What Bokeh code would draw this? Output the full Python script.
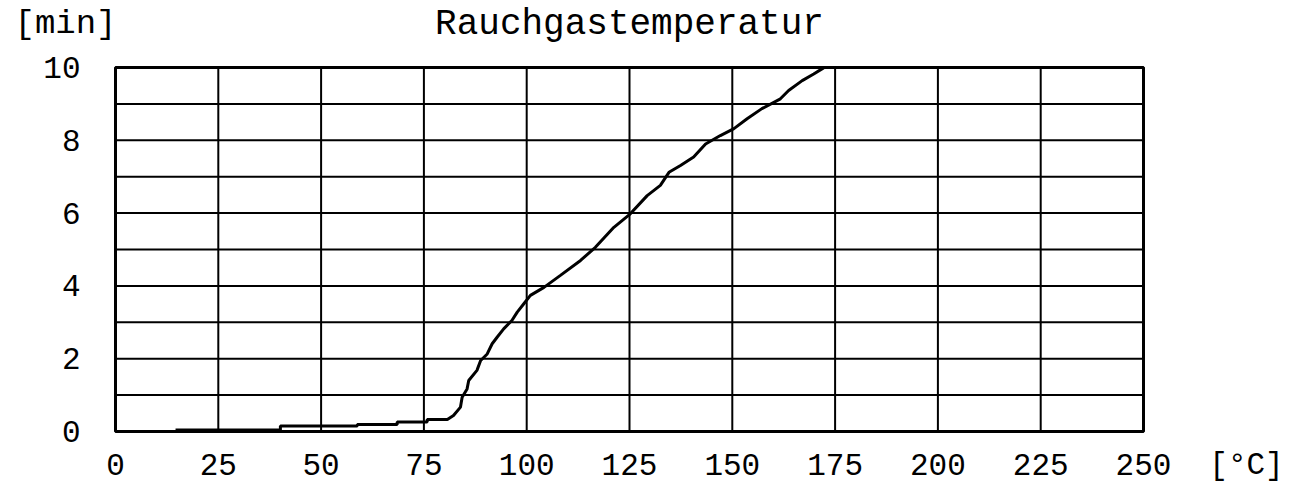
from bokeh.plotting import figure
from bokeh.models import Range1d, FixedTicker
from bokeh.core.properties import value
from bokeh.embed import file_html
from bokeh.resources import INLINE

# ---- data ----
temperature = [14.6, 40.1, 40.1, 58.8, 58.8, 68.5, 68.5, 75.8, 75.8, 80.7,
               82.2, 83.9, 84.3, 85.5, 85.9, 87.9, 88.8, 90.4, 91.6, 92.8,
               94.4, 96.4, 97.7, 99.3, 100.9, 104.2, 108.2, 113.1, 116.7, 121.2,
               125.2, 129.3, 132.5, 134.6, 137.4, 140.6, 143.5, 147.1, 150.4, 153.6,
               157.2, 161.7, 163.7, 167.0, 169.8, 172.2]
minutes = [0.04, 0.04, 0.15, 0.15, 0.19, 0.19, 0.26, 0.26, 0.33, 0.33,
           0.44, 0.67, 0.94, 1.17, 1.40, 1.68, 1.95, 2.13, 2.41, 2.59,
           2.82, 3.05, 3.28, 3.51, 3.74, 3.96, 4.29, 4.70, 5.06, 5.61,
           5.98, 6.48, 6.76, 7.12, 7.31, 7.54, 7.90, 8.13, 8.32, 8.59,
           8.87, 9.14, 9.37, 9.64, 9.82, 9.99]

x_ticks = [0, 25, 50, 75, 100, 125, 150, 175, 200, 225, 250]
x_tick_labels = ["0", "25", "50", "75", "100", "125", "150", "175", "200", "225", "250"]
y_grid = [0, 1, 2, 3, 4, 5, 6, 7, 8, 9, 10]
y_ticks = [0, 2, 4, 6, 8, 10]
y_tick_labels = ["0", "2", "4", "6", "8", "10"]

title_text = "Rauchgastemperatur"
y_unit = "[min]"
x_unit = "[°C]"

FONT = "Liberation Mono"

# ---- layout: the plot frame fills the canvas; grid box occupies px 115..1143 x 67..431 ----
W, H = 1301, 486
GL, GR, GT, GB = 115, 1143, 67, 431
x0, x1 = x_ticks[0], x_ticks[-1]
y0, y1 = y_grid[0], y_grid[-1]
sx = (GR - GL) / (x1 - x0)
sy = (GB - GT) / (y1 - y0)
xr = Range1d(x0 - GL / sx, x1 + (W - GR) / sx)
yr = Range1d(y0 - (H - GB) / sy, y1 + GT / sy)

p = figure(width=W, height=H, output_backend="svg", toolbar_location=None,
           x_range=xr, y_range=yr)
p.min_border = 0
p.min_border_left = 0
p.min_border_right = 0
p.min_border_top = 0
p.min_border_bottom = 0
p.outline_line_color = None
p.background_fill_color = "white"
p.border_fill_color = "white"
p.grid.visible = False

# axes fixed at the data origin, drawn inside the frame
p.xaxis.fixed_location = y0
p.yaxis.fixed_location = x0
p.xaxis.ticker = FixedTicker(ticks=x_ticks)
p.yaxis.ticker = FixedTicker(ticks=y_ticks)
p.xaxis.major_label_overrides = dict(zip(x_ticks, x_tick_labels))
p.yaxis.major_label_overrides = dict(zip(y_ticks, y_tick_labels))
for ax in (p.xaxis, p.yaxis):
    ax.axis_line_color = None
    ax.major_tick_line_color = None
    ax.minor_tick_line_color = None
    ax.major_tick_out = 0
    ax.major_tick_in = 0
    ax.major_label_text_font = FONT
    ax.major_label_text_font_size = "31px"
    ax.major_label_text_color = "black"
p.xaxis.major_label_standoff = 22
p.yaxis.major_label_standoff = 35

# grid lines (from the tick arrays)
p.segment(x0=x_ticks, y0=[y0] * len(x_ticks), x1=x_ticks, y1=[y1] * len(x_ticks),
          line_color="black", line_width=2)
p.segment(x0=[x0] * len(y_grid), y0=y_grid, x1=[x1] * len(y_grid), y1=y_grid,
          line_color="black", line_width=2)
# outer frame
p.rect(x=[(x0 + x1) / 2], y=[(y0 + y1) / 2], width=[x1 - x0], height=[y1 - y0],
       fill_color=None, line_color="black", line_width=3)

# data curve
p.line(temperature, minutes, line_color="black", line_width=3)

# texts
p.text(x=[x1], y=[y0], text=[x_unit], x_offset=103, y_offset=34,
       text_align="center", text_baseline="middle",
       text_font=value(FONT), text_font_size="31px", text_color="black")
p.text(x=[x0], y=[y1], text=[y_unit], x_offset=-50, y_offset=-44,
       text_align="center", text_baseline="middle",
       text_font=value(FONT), text_font_size="34px", text_color="black")
p.text(x=[(x0 + x1) / 2], y=[y1], text=[title_text], y_offset=-43,
       text_align="center", text_baseline="middle",
       text_font=value(FONT), text_font_size="36px", text_color="black")

open("out.html", "w").write(file_html(p, INLINE))
